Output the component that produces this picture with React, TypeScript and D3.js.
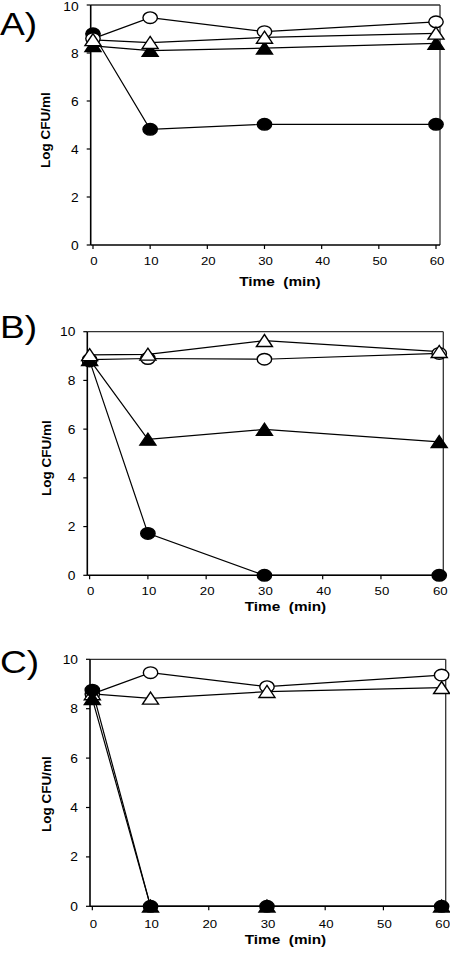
import React from 'react';
import * as d3 from 'd3';

// ---- data ----
const times = [0, 10, 30, 60];
const xTickValues = [0, 10, 20, 30, 40, 50, 60];
const yTickValues = [0, 2, 4, 6, 8, 10];
const panelLabels = ['A)', 'B)', 'C)'];
const xTitle = 'Time  (min)';
const yTitle = 'Log CFU/ml';

// Panel A
const aOpenCircle = [8.6, 9.47, 8.89, 9.3];
const aOpenTriangle = [8.55, 8.43, 8.65, 8.82];
const aFilledTriangle = [8.3, 8.1, 8.2, 8.4];
const aFilledCircle = [8.8, 4.82, 5.03, 5.03];
// Panel B
const bOpenCircle = [8.85, 8.9, 8.87, 9.11];
const bOpenTriangle = [9.05, 9.07, 9.63, 9.18];
const bFilledTriangle = [8.85, 5.58, 5.99, 5.48];
const bFilledCircle = [8.8, 1.72, 0, 0];
// Panel C
const cOpenCircle = [8.6, 9.46, 8.89, 9.36];
const cOpenTriangle = [8.6, 8.42, 8.69, 8.85];
const cFilledTriangle = [8.4, 0, 0, 0];
const cFilledCircle = [8.75, 0, 0, 0];

type Kind = 'openCircle' | 'openTriangle' | 'filledTriangle' | 'filledCircle';

const panelSeries: { kind: Kind; values: number[] }[][] = [
  [
    { kind: 'filledCircle', values: aFilledCircle },
    { kind: 'openCircle', values: aOpenCircle },
    { kind: 'filledTriangle', values: aFilledTriangle },
    { kind: 'openTriangle', values: aOpenTriangle },
  ],
  [
    { kind: 'filledCircle', values: bFilledCircle },
    { kind: 'openCircle', values: bOpenCircle },
    { kind: 'filledTriangle', values: bFilledTriangle },
    { kind: 'openTriangle', values: bOpenTriangle },
  ],
  [
    { kind: 'openCircle', values: cOpenCircle },
    { kind: 'openTriangle', values: cOpenTriangle },
    { kind: 'filledTriangle', values: cFilledTriangle },
    { kind: 'filledCircle', values: cFilledCircle },
  ],
];

// ---- layout ----
const layouts = [
  { left: 90.7, right: 440, top: 5, bottom: 245, letterY: 35, yTitleX: 45, yTitleY: 130, xTitleX: 280, xTitleY: 286, tickLabelDy: 20 },
  { left: 87.3, right: 443.3, top: 331.7, bottom: 575.3, letterY: 338, yTitleX: 46, yTitleY: 458, xTitleX: 285.5, xTitleY: 611, tickLabelDy: 20 },
  { left: 90, right: 445.7, top: 659.3, bottom: 906.3, letterY: 673, yTitleX: 46, yTitleY: 794, xTitleX: 285.5, xTitleY: 944, tickLabelDy: 22 },
];

const FONT = 'Liberation Sans, Arial, Helvetica, sans-serif';
const SX = 1.15;

function Marker({ kind, x, y }: { kind: Kind; x: number; y: number }) {
  if (kind === 'openCircle' || kind === 'filledCircle') {
    const filled = kind === 'filledCircle';
    return (
      <ellipse cx={x} cy={y} rx={7.2} ry={5.8} fill={filled ? '#000' : '#fff'} stroke="#000" strokeWidth={1.4} />
    );
  }
  const filled = kind === 'filledTriangle';
  const p = `M${x},${y - 6.2} L${x + 8},${y + 5.8} L${x - 8},${y + 5.8} Z`;
  return <path d={p} fill={filled ? '#000' : '#fff'} stroke="#000" strokeWidth={1.4} strokeLinejoin="miter" />;
}

function Panel({ idx }: { idx: number }) {
  const L = layouts[idx];
  const x = d3.scaleLinear().domain([-0.4, 60.7]).range([L.left, L.right]);
  const y = d3.scaleLinear().domain([0, 10]).range([L.bottom, L.top]);
  const line = d3
    .line<number>()
    .x((_, i) => x(times[i]))
    .y((d) => y(d));
  const series = panelSeries[idx];
  return (
    <g>
      {/* frame */}
      <line x1={L.left} x2={L.right} y1={L.top} y2={L.top} stroke="#333" strokeWidth={1.3} />
      <line x1={L.right} x2={L.right} y1={L.top} y2={L.bottom} stroke="#333" strokeWidth={1.3} />
      <line x1={L.left} x2={L.right} y1={L.bottom} y2={L.bottom} stroke="#000" strokeWidth={1.6} />
      <line x1={L.left} x2={L.left} y1={L.top} y2={L.bottom} stroke="#000" strokeWidth={1.6} />
      {/* y ticks */}
      {yTickValues.map((t) => (
        <g key={'y' + t}>
          <line x1={L.left - 4} x2={L.left} y1={y(t)} y2={y(t)} stroke="#000" strokeWidth={1.2} />
          <text
            transform={`translate(${L.left - 12},${Math.max(y(t) + 4.5, 10.5)}) scale(${SX},1)`}
            textAnchor="end"
            fontFamily={FONT}
            fontSize={12}
            fill="#000"
          >
            {t}
          </text>
        </g>
      ))}
      {/* x ticks */}
      {xTickValues.map((t) => (
        <g key={'x' + t}>
          <line x1={x(t)} x2={x(t)} y1={L.bottom} y2={L.bottom + 4} stroke="#000" strokeWidth={1.2} />
          <text
            transform={`translate(${x(t) + 1},${L.bottom + L.tickLabelDy}) scale(${SX},1)`}
            textAnchor="middle"
            fontFamily={FONT}
            fontSize={11.5}
            fill="#000"
          >
            {t}
          </text>
        </g>
      ))}
      {/* lines */}
      {series.map((s, i) => (
        <path key={'l' + i} d={line(s.values) || ''} fill="none" stroke="#000" strokeWidth={1.2} />
      ))}
      {/* markers */}
      {series.map((s, i) => (
        <g key={'m' + i}>
          {s.values.map((v, j) => (
            <Marker key={j} kind={s.kind} x={x(times[j])} y={y(v)} />
          ))}
        </g>
      ))}
      {/* titles */}
      <text
        transform={`translate(${L.xTitleX},${L.xTitleY}) scale(1.18,1)`}
        textAnchor="middle"
        fontFamily={FONT}
        fontWeight="bold"
        fontSize={13}
        fill="#000"
        style={{ whiteSpace: 'pre' }}
      >
        {xTitle}
      </text>
      <text
        transform={`translate(${L.yTitleX + 5},${L.yTitleY}) rotate(-90)`}
        textAnchor="middle"
        fontFamily={FONT}
        fontWeight="bold"
        fontSize={13.5}
        fill="#000"
      >
        {yTitle}
      </text>
      <text
        transform={`translate(0,${L.letterY}) scale(1.2,1)`}
        fontFamily={FONT}
        fontSize={31}
        fill="#000"
      >
        {panelLabels[idx]}
      </text>
    </g>
  );
}

export default function App() {
  return (
    <svg
      width={450}
      height={954}
      viewBox="0 0 450 954"
      style={{ position: 'absolute', left: 0, top: 0, display: 'block', background: '#fff' }}
    >
      <rect x={0} y={0} width={450} height={954} fill="#fff" />
      {[0, 1, 2].map((i) => (
        <Panel key={i} idx={i} />
      ))}
    </svg>
  );
}
